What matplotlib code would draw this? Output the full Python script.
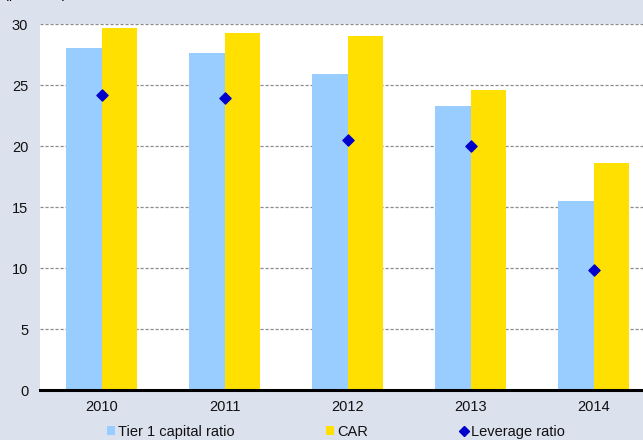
import numpy as np
import matplotlib.pyplot as plt
from matplotlib.lines import Line2D
import matplotlib.patches as mpatches

plt.rcParams['font.family'] = ['Liberation Sans', 'DejaVu Sans']

years = ['2010', '2011', '2012', '2013', '2014']
tier1 = [28.0, 27.6, 25.9, 23.3, 15.5]
car = [29.7, 29.3, 29.0, 24.6, 18.6]
leverage = [24.2, 23.9, 20.5, 20.0, 9.8]
y_ticks = [0, 5, 10, 15, 20, 25, 30]

background_color = '#DCE1EE'
blue = '#99CCFF'
yellow = '#FFE000'
navy = '#0000CC'

fig = plt.figure(figsize=(6.43, 4.40), dpi=100, facecolor=background_color)
# axes run slightly past the right edge of the figure
ax = fig.add_axes([40 / 643, 50 / 440, 615 / 643, 366 / 440])
ax.set_facecolor('white')

x = np.arange(len(years))
width = 0.285

ax.set_axisbelow(True)
ax.bar(x - width / 2, tier1, width, color=blue, edgecolor='none', zorder=2)
ax.bar(x + width / 2, car, width, color=yellow, edgecolor='none', zorder=2)
ax.scatter(x, leverage, marker='D', s=32, color=navy, zorder=3)

ax.set_xlim(-0.5, len(years) - 0.5)
ax.set_ylim(0, 30)
ax.set_yticks(y_ticks)
ax.set_xticks(x)
ax.set_xticklabels(years)
ax.tick_params(axis='both', length=0, labelsize=10.5, colors='#111111')
ax.tick_params(axis='x', pad=7)
ax.tick_params(axis='y', pad=8.5)

ax.yaxis.grid(True, color='#8C8C8C', linestyle=(0, (2.5, 1.5)), linewidth=0.9)
for spine in ['top', 'right', 'left']:
    ax.spines[spine].set_visible(False)
ax.spines['bottom'].set_linewidth(2.2)
ax.spines['bottom'].set_color('black')
ax.spines['bottom'].set_zorder(4)

fig.text(0.006, 1.0 + 2 / 440, '(per cent)', fontsize=10.5, va='baseline', ha='left')

handles = [
    mpatches.Patch(facecolor=blue, edgecolor='none', label='Tier 1 capital ratio'),
    mpatches.Patch(facecolor=yellow, edgecolor='none', label='CAR'),
    Line2D([], [], marker='D', color=navy, linestyle='none', markersize=5.5, label='Leverage ratio'),
]
fig.legend(handles=handles, loc='center', bbox_to_anchor=(336 / 643, 8 / 440), ncol=3,
           frameon=False, fontsize=10.5, handlelength=0.55, handleheight=0.6,
           handletextpad=0.2, columnspacing=6.3, borderpad=0,
           labelcolor='#111111')

fig.savefig('out.png', dpi=100, facecolor=fig.get_facecolor())
